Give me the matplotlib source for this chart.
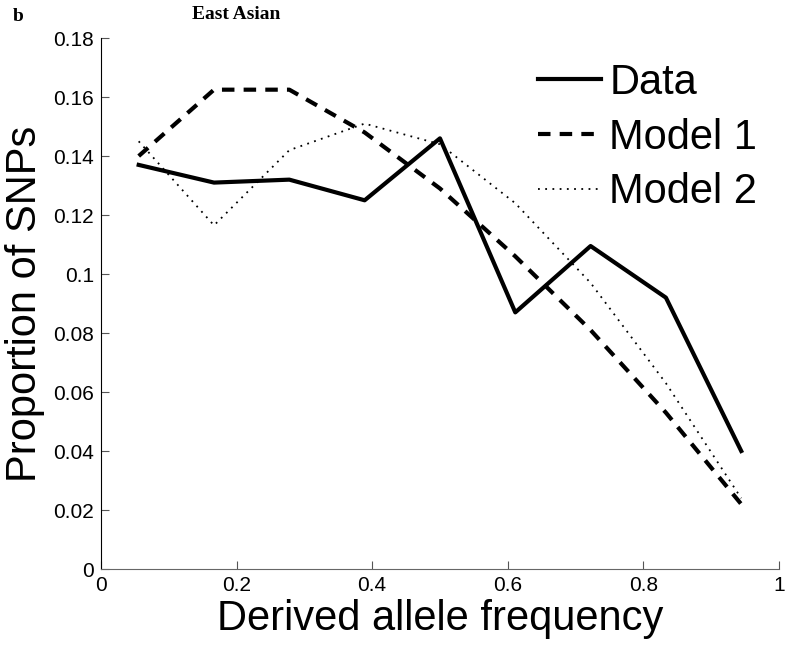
import matplotlib.pyplot as plt
import numpy as np

# Derived allele frequency bins (midpoints of 9 bins).
freq = [0.0556, 0.1667, 0.2778, 0.3889, 0.5, 0.6111, 0.7222, 0.8333, 0.9444]

data = [0.137, 0.131, 0.132, 0.125, 0.146, 0.087, 0.1095, 0.092, 0.040]
model1 = [0.140, 0.1625, 0.1625, 0.148, 0.129, 0.106, 0.081, 0.053, 0.022]
model2 = [0.145, 0.1165, 0.142, 0.151, 0.144, 0.124, 0.097, 0.063, 0.024]

xticks = [0, 0.2, 0.4, 0.6, 0.8, 1]
yticks = [0, 0.02, 0.04, 0.06, 0.08, 0.1, 0.12, 0.14, 0.16, 0.18]

plt.rcParams['font.family'] = ['Liberation Sans', 'DejaVu Sans']

fig = plt.figure(figsize=(7.86, 6.45), dpi=100)
ax = fig.add_axes([0.1285, 0.1178, 0.8625, 0.8232])

ax.plot(freq, data, color='black', linewidth=3, label='Data')
ax.plot(freq, model1, color='black', linewidth=3, linestyle=(0, (3, 2.2)), label='Model 1')
ax.plot(freq, model2, color='black', linewidth=1.3, linestyle=(0, (1, 3)), label='Model 2')

ax.set_xlim(0, 1)
ax.set_ylim(0, 0.18)
ax.set_xticks(xticks)
ax.set_xticklabels(['0', '0.2', '0.4', '0.6', '0.8', '1'])
ax.set_yticks(yticks)
ax.set_yticklabels(['0', '0.02', '0.04', '0.06', '0.08', '0.1', '0.12', '0.14', '0.16', '0.18'])
ax.tick_params(direction='in', length=6, labelsize=15, pad=5, color='#555555')

ax.spines['top'].set_visible(False)
ax.spines['right'].set_visible(False)
ax.spines['left'].set_color('black')
ax.spines['bottom'].set_color('#666666')

ax.set_xlabel('Derived allele frequency', fontsize=30, labelpad=3)
ax.set_ylabel('Proportion of SNPs', fontsize=30, labelpad=6)

ax.legend(loc='upper right', bbox_to_anchor=(1.005, 1.0), frameon=False, fontsize=30,
          handlelength=1.5, handletextpad=0.2, labelspacing=0.35, borderaxespad=0.2)

fig.text(0.016, 0.975, 'b', fontsize=14, fontweight='bold', family='Liberation Serif', va='center')
fig.text(0.30, 0.977, 'East Asian', fontsize=14, fontweight='bold', family='Liberation Serif',
         ha='center', va='center')

fig.savefig('out.png', dpi=100)
plt.close(fig)
